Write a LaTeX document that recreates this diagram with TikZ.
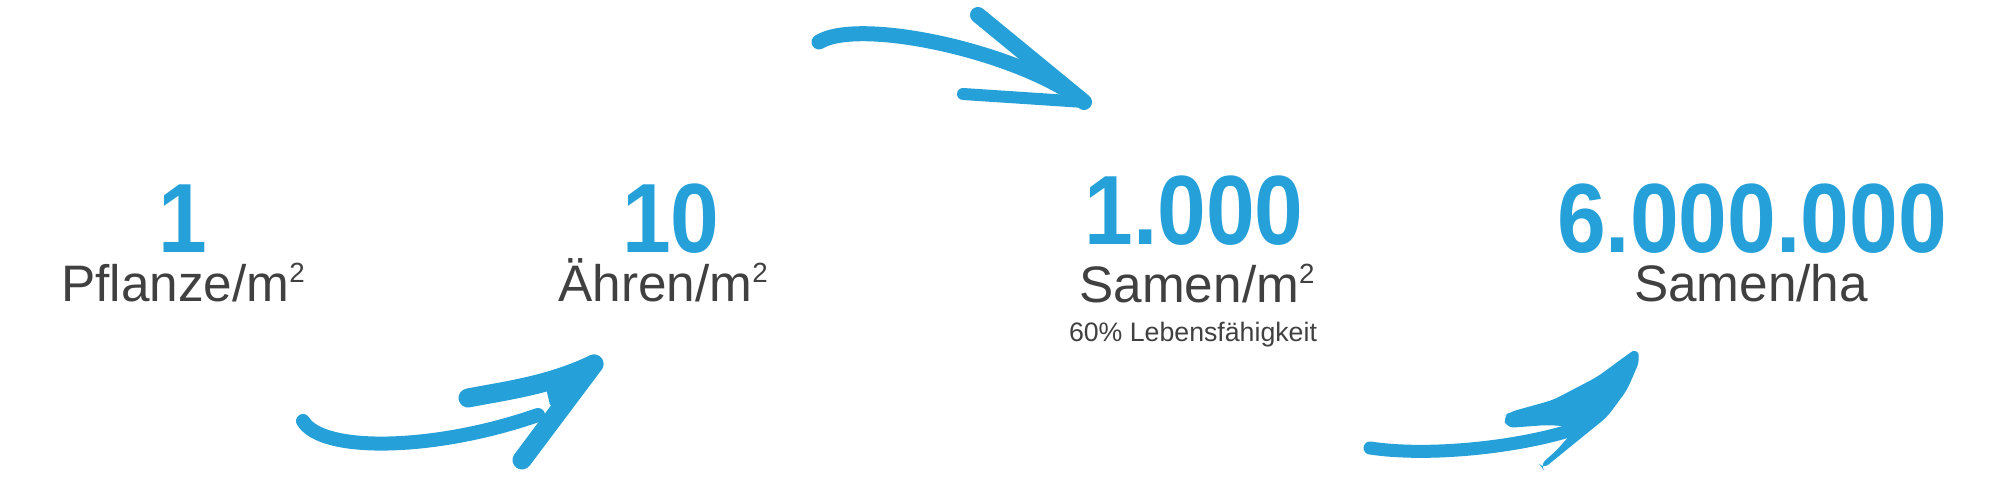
\documentclass[tikz,border=0pt]{standalone}
\usepackage{fontspec}
\setmainfont{Liberation Sans}
\newfontfamily\numfont[FakeStretch=0.89]{Liberation Sans Bold}
\usetikzlibrary{calc}
\definecolor{arrowblue}{RGB}{37,160,217}
\definecolor{textgray}{RGB}{64,64,64}
\newcommand{\sqm}{\raisebox{0.38em}{\fontsize{7.9}{8}\selectfont 2}}
\tikzstyle{num} = [anchor=base, inner sep=0pt, text depth=0pt, text=arrowblue, font=\numfont\fontsize{28}{30}\selectfont]
\tikzstyle{unit} = [anchor=base, inner sep=0pt, text height=0.75em, text depth=0.2em, text=textgray, font=\fontsize{14.6}{16}\selectfont]
\tikzstyle{note} = [anchor=base, inner sep=0pt, text=textgray, font=\fontsize{7.6}{9}\selectfont]
\tikzstyle{brush} = [draw=arrowblue, line cap=round, line join=round]

\begin{document}
\begin{tikzpicture}
\useasboundingbox (0,0) rectangle (20,4.97);
% numbers and units
\node[num] (n1) at (1.83,2.44) {1};
\node[unit] (u1) at (1.83,1.95) {Pflanze/m\sqm};
\node[num] (n2) at (6.71,2.44) {10};
\node[unit] (u2) at (6.63,1.95) {Ähren/m\sqm};
\node[num] (n3) at (11.94,2.52) {1.000};
\node[unit] (u3) at (11.97,1.94) {Samen/m\sqm};
\node[note] (v3) at (11.93,1.55) {60\% Lebensfähigkeit};
\node[num] (n4) at (17.52,2.44) {6.000.000};
\node[unit] (u4) at (17.51,1.95) {Samen/ha};
% arrow 1 -> 10
\coordinate (a1s) at (3.03,0.76);
\coordinate (a1t) at (5.94,1.33);
\draw[brush, line width=0.14cm] (a1s) .. controls (3.22,0.44) and (4.35,0.46) .. (5.38,0.82);
\draw[brush, line width=0.19cm] (4.68,0.99) .. controls (5.1,1.07) and (5.5,1.12) .. (a1t);
\draw[brush, line width=0.19cm] (a1t) -- (5.22,0.37);
\fill[arrowblue] (a1t) -- (5.45,1.13) -- (5.50,0.92) -- (5.68,0.88) -- cycle;
% arrow 10 -> 1.000
\coordinate (a2s) at (8.19,4.55);
\coordinate (a2t) at (10.84,3.95);
\draw[brush, line width=0.15cm] (a2s) .. controls (8.6,4.80) and (10.2,4.45) .. (a2t);
\draw[brush, line width=0.16cm] (9.78,4.82) -- (a2t);
\draw[brush, line width=0.12cm] (9.63,4.03) -- (a2t);
% arrow 1.000 -> 6.000.000
\coordinate (a3s) at (13.70,0.49);
\coordinate (a3t) at (16.37,1.49);
\draw[brush, line width=0.13cm] (a3s) .. controls (14.3,0.40) and (15.2,0.50) .. (15.75,0.68);
\fill[arrowblue, rounded corners=2pt] (a3t) -- (16.40,1.37) -- (16.27,1.07) -- (16.07,0.80) -- (15.70,0.50)
  -- (15.43,0.28) -- (15.40,0.32) -- (15.57,0.47) -- (15.77,0.70) -- (15.47,0.72) -- (15.07,0.69)
  -- (15.03,0.80) -- (15.10,0.85) -- (15.53,0.97) -- (15.97,1.20) -- (16.27,1.42) -- cycle;
\end{tikzpicture}
\end{document}
